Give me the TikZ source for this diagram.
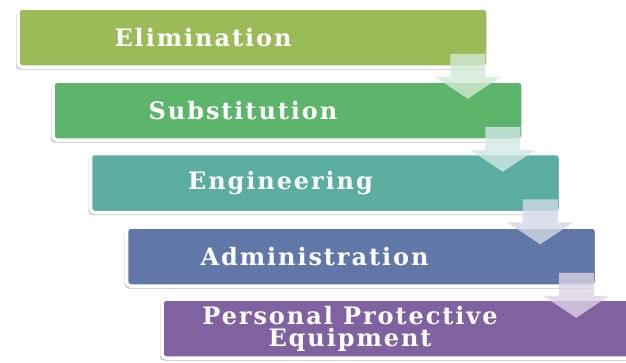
\documentclass[tikz,border=0pt]{standalone}
\usepackage{fontspec}
\setmainfont{DejaVu Serif}
\newfontfamily\tierfont[LetterSpace=8]{DejaVu Serif}
\usetikzlibrary{calc,shadows}

\definecolor{elimc}{RGB}{155,187,89}
\definecolor{subsc}{RGB}{92,181,106}
\definecolor{engc}{RGB}{91,173,161}
\definecolor{adminc}{RGB}{96,119,168}
\definecolor{ppec}{RGB}{128,98,160}

\tikzset{
  tier/.style={draw=white, line width=3.5pt, rounded corners=4pt,
    minimum width=470pt, minimum height=59pt, inner sep=0pt,
    drop shadow={shadow xshift=-2pt, shadow yshift=-2.5pt, opacity=0.4, fill=black!60}},
  tiertext/.style={text=white, font=\tierfont\bfseries\fontsize{24}{22}\selectfont,
    align=center, inner sep=0pt},
  pics/downarrow/.style={code={
    \fill[#1, opacity=0.8] (-17.5,0) -- (17.5,0) -- (17.5,23) -- (33,23)
      -- (0,45) -- (-33,23) -- (-17.5,23) -- cycle;}}
}

\begin{document}
\begin{tikzpicture}[x=1pt, y=-1pt]
  \useasboundingbox (0,0) rectangle (626,362);

  % hierarchy tiers, each stepped right and down
  \node[tier, fill=elimc]  (b1) at (253,37.5)  {};
  \node[tier, fill=subsc]  (b2) at (288,110.5) {};
  \node[tier, fill=engc]   (b3) at (325.5,183) {};
  \node[tier, fill=adminc] (b4) at (361.5,256.5) {};
  \node[tier, fill=ppec]   (b5) at (397,328.5) {};

  % tier labels, set left of centre to clear the arrows
  \node[tiertext] (t1) at ($(b1.center)+(-50,0)$) {Elimination};
  \node[tiertext] (t2) at ($(b2.center)+(-45,0)$) {Substitution};
  \node[tiertext] (t3) at ($(b3.center)+(-45,0)$) {Engineering};
  \node[tiertext] (t4) at ($(b4.center)+(-47,0)$) {Administration};
  \node[tiertext] (t5) at ($(b5.center)+(-47,0)$) {Personal Protective\\Equipment};

  % step arrows between consecutive tiers
  \pic at ($(b1.south east)+(-22,-15)$) {downarrow={subsc!28}};
  \pic at ($(b2.south east)+(-22,-15)$) {downarrow={engc!28}};
  \pic at ($(b3.south east)+(-22,-15)$) {downarrow={adminc!28}};
  \pic at ($(b4.south east)+(-22,-15)$) {downarrow={ppec!28}};
\end{tikzpicture}
\end{document}
